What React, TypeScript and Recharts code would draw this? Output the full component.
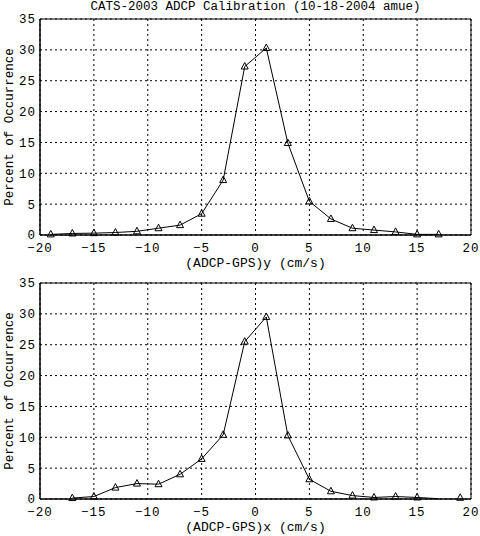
import { ComposedChart, Line, Scatter, XAxis, YAxis, CartesianGrid, ReferenceArea } from 'recharts';

// top panel: (ADCP-GPS)y
const yBins = [-19, -17, -15, -13, -11, -9, -7, -5, -3, -1, 1, 3, 5, 7, 9, 11, 13, 15, 17];
const yPct = [0.1, 0.25, 0.3, 0.4, 0.6, 1.1, 1.6, 3.45, 8.9, 27.3, 30.3, 14.9, 5.45, 2.6, 1.1, 0.8, 0.5, 0.1, 0.1];

// bottom panel: (ADCP-GPS)x
const xBins = [-17, -15, -13, -11, -9, -7, -5, -3, -1, 1, 3, 5, 7, 9, 11, 13, 15, 17, 19];
const xPct = [0.15, 0.4, 1.85, 2.5, 2.4, 4.0, 6.5, 10.4, 25.5, 29.5, 10.3, 3.2, 1.25, 0.55, 0.25, 0.4, 0.25, 0.05, 0.2];
const xLineEnd = 17; // curve stops here, the last bin is marker only
const xMarkerSkip = [17];

const xTicks = [-20, -15, -10, -5, 0, 5, 10, 15, 20];
const yTicks = [0, 5, 10, 15, 20, 25, 30, 35];

const FONT = '"Liberation Mono", "DejaVu Sans Mono", monospace';
const W = 480;
const H = 272;

const fmt = (v: number) => String(v).replace('-', '\u2212');

const Triangle = (props: any) => {
  const { cx, cy } = props;
  if (cx == null || cy == null) return null;
  return (
    <polygon
      points={`${cx},${cy - 4} ${cx - 3.5},${cy + 2.5} ${cx + 3.5},${cy + 2.5}`}
      fill="none"
      stroke="#000"
      strokeWidth={1}
    />
  );
};

interface PanelProps {
  bins: number[];
  pct: number[];
  lineEnd?: number;
  skip?: number[];
  xLabel: string;
}

const Panel = ({ bins, pct, lineEnd, skip, xLabel }: PanelProps) => {
  const lineData = bins
    .map((b, i) => ({ x: b, y: pct[i] }))
    .filter((d) => lineEnd == null || d.x <= lineEnd);
  const markData = bins
    .map((b, i) => ({ x: b, y: pct[i] }))
    .filter((d) => !(skip || []).includes(d.x));

  return (
    <ComposedChart width={W} height={H} margin={{ top: 19, right: 9, bottom: 0, left: 0 }}>
      <CartesianGrid stroke="#000" strokeDasharray="2 3" ticks={xTicks} />
      <XAxis
        type="number"
        dataKey="x"
        domain={[-20, 20]}
        ticks={xTicks}
        tickFormatter={fmt}
        tickSize={0}
        tickMargin={8}
        height={37}
        stroke="#000"
        tick={{ fill: '#000', fontSize: 12.5, fontFamily: FONT, letterSpacing: 1 }}
        label={{ value: xLabel, position: 'insideBottom', offset: 5, fill: '#000', fontSize: 13, fontFamily: FONT }}
        allowDataOverflow
      />
      <YAxis
        type="number"
        domain={[0, 35]}
        ticks={yTicks}
        tickSize={0}
        tickMargin={4}
        width={40}
        stroke="#000"
        tick={{ fill: '#000', fontSize: 12.5, fontFamily: FONT, letterSpacing: 1 }}
        label={{
          value: 'Percent of Occurrence',
          angle: -90,
          position: 'insideLeft',
          offset: 9,
          fill: '#000',
          fontSize: 12.5,
          fontFamily: FONT,
          style: { textAnchor: 'middle' },
        }}
      />
      <ReferenceArea x1={-20} x2={20} y1={0} y2={35} fill="none" stroke="#000" strokeWidth={1} />
      <Line
        data={lineData}
        dataKey="y"
        type="linear"
        stroke="#000"
        strokeWidth={1}
        dot={false}
        isAnimationActive={false}
      />
      <Scatter data={markData} dataKey="y" shape={<Triangle />} isAnimationActive={false} />
    </ComposedChart>
  );
};

export default function App() {
  return (
    <div style={{ position: 'absolute', left: 0, top: 0, width: W, height: 536, background: '#fff' }}>
      <div
        style={{
          position: 'absolute',
          left: 40,
          width: 431,
          top: 0,
          textAlign: 'center',
          fontFamily: FONT,
          fontSize: 12.5,
          lineHeight: '14px',
          color: '#000',
        }}
      >
        CATS-2003 ADCP Calibration (10-18-2004 amue)
      </div>
      <div style={{ position: 'absolute', left: 0, top: 0 }}>
        <Panel bins={yBins} pct={yPct} xLabel="(ADCP-GPS)y (cm/s)" />
      </div>
      <div style={{ position: 'absolute', left: 0, top: 264 }}>
        <Panel bins={xBins} pct={xPct} lineEnd={xLineEnd} skip={xMarkerSkip} xLabel="(ADCP-GPS)x (cm/s)" />
      </div>
    </div>
  );
}
